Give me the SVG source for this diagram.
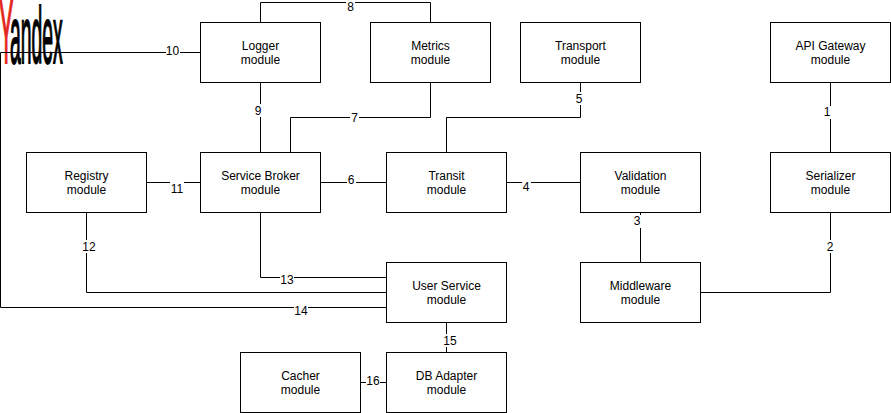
<svg xmlns="http://www.w3.org/2000/svg" width="891" height="413" viewBox="0 0 891 413">
<style>
.box{fill:#fff;stroke:#000;stroke-width:1}
.conn{fill:none;stroke:#000;stroke-width:1}
.t{font-family:"Liberation Sans",Arial,sans-serif;font-size:12px;text-anchor:middle;fill:#000}
.bg{fill:#fff}
</style>
<g id="yandex-logo"><text transform="translate(-1 63) scale(0.24 1)" font-family="Liberation Sans, Arial, sans-serif" font-size="90" fill="#e52620" stroke="#e52620" stroke-width="2">Y</text><text transform="translate(10 63) scale(0.245 1)" font-family="Liberation Sans, Arial, sans-serif" font-size="79" fill="#000" stroke="#000" stroke-width="2">andex</text></g>
<g id="connectors">
<path class="conn" d="M260.500 22V2.500H430.500V22"/>
<path class="conn" d="M200 52.500H0.500V307.500H386"/>
<path class="conn" d="M260.500 82V152"/>
<path class="conn" d="M430.500 82V117.500H290.500V152"/>
<path class="conn" d="M580.500 82V117.500H446.500V152"/>
<path class="conn" d="M830.500 82V152"/>
<path class="conn" d="M146 182.500H200"/>
<path class="conn" d="M320 182.500H386"/>
<path class="conn" d="M506 182.500H580"/>
<path class="conn" d="M640.500 212V262"/>
<path class="conn" d="M700 292.500H830.500V212"/>
<path class="conn" d="M86.500 212V292.500H386"/>
<path class="conn" d="M260.500 212V277.500H386"/>
<path class="conn" d="M446.500 322V352"/>
<path class="conn" d="M360 382.500H386"/>
<g id="edge-labels">
<rect class="bg" x="346" y="1" width="9" height="13"/><text class="t" x="350.500" y="11">8</text>
<rect class="bg" x="166" y="45" width="14" height="13"/><text class="t" x="172.500" y="55">10</text>
<rect class="bg" x="254" y="104" width="9" height="13"/><text class="t" x="258" y="115">9</text>
<rect class="bg" x="350" y="112" width="9" height="13"/><text class="t" x="354.500" y="122">7</text>
<rect class="bg" x="575" y="92" width="9" height="13"/><text class="t" x="579" y="103">5</text>
<rect class="bg" x="823" y="106" width="9" height="13"/><text class="t" x="827" y="116">1</text>
<rect class="bg" x="170" y="182" width="14" height="13"/><text class="t" x="177" y="193">11</text>
<rect class="bg" x="347" y="174" width="9" height="13"/><text class="t" x="351" y="184">6</text>
<rect class="bg" x="522" y="181" width="9" height="13"/><text class="t" x="526" y="191">4</text>
<rect class="bg" x="633" y="215" width="9" height="13"/><text class="t" x="637" y="225">3</text>
<rect class="bg" x="826" y="240" width="9" height="13"/><text class="t" x="830" y="251">2</text>
<rect class="bg" x="82" y="240" width="14" height="13"/><text class="t" x="89" y="251">12</text>
<rect class="bg" x="280" y="273" width="14" height="13"/><text class="t" x="287" y="284">13</text>
<rect class="bg" x="294" y="305" width="14" height="13"/><text class="t" x="301" y="315">14</text>
<rect class="bg" x="443" y="334" width="14" height="13"/><text class="t" x="450" y="345">15</text>
<rect class="bg" x="366" y="375" width="14" height="13"/><text class="t" x="373" y="385">16</text>
</g>
</g>
<g id="logger"><rect class="box" x="200.500" y="22.500" width="120" height="60"/><text class="t" x="260.500" y="50">Logger</text><text class="t" x="260.500" y="64">module</text></g>
<g id="metrics"><rect class="box" x="370.500" y="22.500" width="120" height="60"/><text class="t" x="430.500" y="50">Metrics</text><text class="t" x="430.500" y="64">module</text></g>
<g id="transport"><rect class="box" x="520.500" y="22.500" width="120" height="60"/><text class="t" x="580.500" y="50">Transport</text><text class="t" x="580.500" y="64">module</text></g>
<g id="api-gateway"><rect class="box" x="770.500" y="22.500" width="120" height="60"/><text class="t" x="830.500" y="50">API Gateway</text><text class="t" x="830.500" y="64">module</text></g>
<g id="registry"><rect class="box" x="26.500" y="152.500" width="120" height="60"/><text class="t" x="86.500" y="180">Registry</text><text class="t" x="86.500" y="194">module</text></g>
<g id="service-broker"><rect class="box" x="200.500" y="152.500" width="120" height="60"/><text class="t" x="260.500" y="180">Service Broker</text><text class="t" x="260.500" y="194">module</text></g>
<g id="transit"><rect class="box" x="386.500" y="152.500" width="120" height="60"/><text class="t" x="446.500" y="180">Transit</text><text class="t" x="446.500" y="194">module</text></g>
<g id="validation"><rect class="box" x="580.500" y="152.500" width="120" height="60"/><text class="t" x="640.500" y="180">Validation</text><text class="t" x="640.500" y="194">module</text></g>
<g id="serializer"><rect class="box" x="770.500" y="152.500" width="120" height="60"/><text class="t" x="830.500" y="180">Serializer</text><text class="t" x="830.500" y="194">module</text></g>
<g id="user-service"><rect class="box" x="386.500" y="262.500" width="120" height="60"/><text class="t" x="446.500" y="290">User Service</text><text class="t" x="446.500" y="304">module</text></g>
<g id="middleware"><rect class="box" x="580.500" y="262.500" width="120" height="60"/><text class="t" x="640.500" y="290">Middleware</text><text class="t" x="640.500" y="304">module</text></g>
<g id="cacher"><rect class="box" x="240.500" y="352.500" width="120" height="60"/><text class="t" x="300.500" y="380">Cacher</text><text class="t" x="300.500" y="394">module</text></g>
<g id="db-adapter"><rect class="box" x="386.500" y="352.500" width="120" height="60"/><text class="t" x="446.500" y="380">DB Adapter</text><text class="t" x="446.500" y="394">module</text></g>
</svg>
